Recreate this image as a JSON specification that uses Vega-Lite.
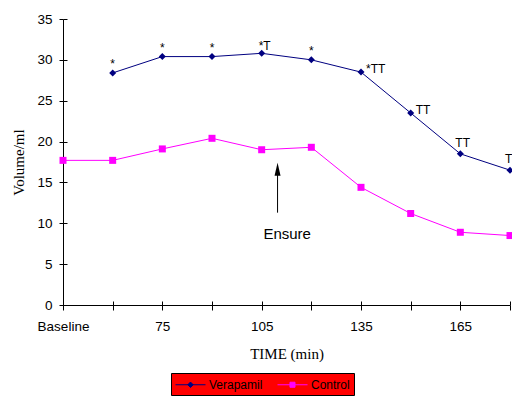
{
  "$schema": "https://vega.github.io/schema/vega-lite/v6.json",
  "width": 447,
  "height": 286,
  "autosize": {"type": "none"},
  "padding": {"left": 63, "top": 19, "right": 2, "bottom": 91},
  "background": "white",
  "config": {
    "view": {"stroke": null},
    "font": "Liberation Sans",
    "axis": {
      "grid": false,
      "domainColor": "#000000",
      "tickColor": "#000000",
      "labelColor": "#000000",
      "labelFont": "Liberation Sans",
      "labelFontSize": 13.5,
      "titleFont": "Liberation Serif",
      "titleFontSize": 15,
      "titleFontWeight": "normal",
      "titleColor": "#000000"
    }
  },
  "datasets": {
    "volumes": [
      {"time": 45, "series": "Control", "volume": 17.7},
      {"time": 60, "series": "Control", "volume": 17.7},
      {"time": 75, "series": "Control", "volume": 19.1},
      {"time": 90, "series": "Control", "volume": 20.4},
      {"time": 105, "series": "Control", "volume": 19.0},
      {"time": 120, "series": "Control", "volume": 19.3},
      {"time": 135, "series": "Control", "volume": 14.4},
      {"time": 150, "series": "Control", "volume": 11.2},
      {"time": 165, "series": "Control", "volume": 8.9},
      {"time": 180, "series": "Control", "volume": 8.5},
      {"time": 60, "series": "Verapamil", "volume": 28.4, "note": "*"},
      {"time": 75, "series": "Verapamil", "volume": 30.4, "note": "*"},
      {"time": 90, "series": "Verapamil", "volume": 30.4, "note": "*"},
      {"time": 105, "series": "Verapamil", "volume": 30.8, "note": "*T"},
      {"time": 120, "series": "Verapamil", "volume": 30.0, "note": "*"},
      {"time": 135, "series": "Verapamil", "volume": 28.5, "note": "*TT"},
      {"time": 150, "series": "Verapamil", "volume": 23.5, "note": "TT"},
      {"time": 165, "series": "Verapamil", "volume": 18.5, "note": "TT"},
      {"time": 180, "series": "Verapamil", "volume": 16.5, "note": "T"}
    ],
    "arrow": [{"time": 109.8, "volume": 11.3, "volume2": 16.0}],
    "arrowHead": [{"time": 109.8, "volume": 16.6}],
    "caption": [{"time": 112.7, "volume": 8.7, "text": "Ensure"}]
  },
  "resolve": {"axis": {"x": "independent", "y": "independent"}},
  "layer": [
    {
      "encoding": {
        "x": {
          "field": "time",
          "type": "quantitative",
          "scale": {"domain": [45, 180], "nice": false, "zero": false},
          "axis": {
            "orient": "bottom",
            "title": "TIME (min)",
            "values": [45, 60, 75, 90, 105, 120, 135, 150, 165, 180],
            "labelExpr": "datum.value == 45 ? 'Baseline' : ((datum.value - 45) / 15) % 2 == 0 ? datum.label : ''",
            "labelFlush": false,
            "labelOverlap": false,
            "tickSize": 5,
            "labelPadding": 9,
            "titlePadding": 14
          }
        },
        "y": {
          "field": "volume",
          "type": "quantitative",
          "scale": {"domain": [0, 35], "nice": false},
          "axis": {
            "orient": "left",
            "title": "Volume/ml",
            "values": [0, 5, 10, 15, 20, 25, 30, 35],
            "tickSize": 4,
            "labelPadding": 7,
            "titlePadding": 10
          }
        }
      },
      "layer": [
        {
          "data": {"name": "volumes"},
          "mark": {"type": "line", "strokeWidth": 1},
          "encoding": {
            "color": {
              "field": "series",
              "type": "nominal",
              "scale": {"domain": ["Verapamil", "Control"], "range": ["#000080", "#FF00FF"]},
              "legend": {
                "orient": "none",
                "legendX": 108,
                "legendY": 354,
                "direction": "horizontal",
                "title": null,
                "fillColor": "#FF0000",
                "strokeColor": "#000000",
                "padding": 4,
                "labelFont": "Liberation Sans",
                "labelFontSize": 12,
                "labelColor": "#000000",
                "symbolSize": 196,
                "symbolType": "M-1,0H3.29",
                "symbolStrokeWidth": 1,
                "columnPadding": 12,
                "labelOffset": 19,
                "encode": {
                  "symbols": {
                    "update": {
                      "shape": {"signal": "datum.value === 'Verapamil' ? 'M-1,0H3.29M1.14,-0.39L1.53,0L1.14,0.39L0.75,0Z' : 'M-1,0H3.29M0.78,-0.36H1.5V0.36H0.78Z'"},
                      "fill": {"signal": "datum.value === 'Verapamil' ? '#000080' : '#FF00FF'"},
                      "stroke": {"signal": "datum.value === 'Verapamil' ? '#000080' : '#FF00FF'"},
                      "opacity": {"value": 1}
                    }
                  }
                }
              }
            }
          }
        },
        {
          "data": {"name": "volumes"},
          "transform": [{"filter": "datum.series == 'Verapamil'"}],
          "mark": {"type": "point", "shape": "diamond", "filled": true, "opacity": 1, "size": 49, "color": "#000080"}
        },
        {
          "data": {"name": "volumes"},
          "transform": [{"filter": "datum.series == 'Control'"}],
          "mark": {"type": "point", "shape": "square", "filled": true, "opacity": 1, "size": 49, "color": "#FF00FF"}
        },
        {
          "data": {"name": "volumes"},
          "transform": [{"filter": "(datum.time == 60 || datum.time == 75 || datum.time == 90 || datum.time == 120) && datum.series == 'Verapamil'"}],
          "mark": {"type": "text", "align": "center", "baseline": "alphabetic", "dy": -4.5, "fontSize": 12, "color": "#000000"},
          "encoding": {"text": {"field": "note"}}
        },
        {
          "data": {"name": "volumes"},
          "transform": [{"filter": "datum.time == 105 && datum.series == 'Verapamil'"}],
          "mark": {"type": "text", "align": "left", "baseline": "alphabetic", "dx": -3, "dy": -3.5, "fontSize": 12, "color": "#000000"},
          "encoding": {"text": {"field": "note"}}
        },
        {
          "data": {"name": "volumes"},
          "transform": [{"filter": "(datum.time == 165 || datum.time == 180) && datum.series == 'Verapamil'"}],
          "mark": {"type": "text", "align": "left", "baseline": "alphabetic", "dx": -5, "dy": -7, "fontSize": 12, "color": "#000000"},
          "encoding": {"text": {"field": "note"}}
        },
        {
          "data": {"name": "volumes"},
          "transform": [{"filter": "(datum.time == 135 || datum.time == 150) && datum.series == 'Verapamil'"}],
          "mark": {"type": "text", "align": "left", "baseline": "alphabetic", "dx": 5, "dy": 1, "fontSize": 12, "color": "#000000"},
          "encoding": {"text": {"field": "note"}}
        },
        {
          "data": {"name": "arrow"},
          "mark": {"type": "rule", "color": "#000000", "strokeWidth": 1},
          "encoding": {"y2": {"field": "volume2"}}
        },
        {
          "data": {"name": "arrowHead"},
          "mark": {"type": "point", "shape": "M0,-1L0.46,1L-0.46,1Z", "size": 169, "filled": true, "color": "#000000", "opacity": 1}
        },
        {
          "data": {"name": "caption"},
          "mark": {"type": "text", "align": "center", "baseline": "middle", "fontSize": 15, "color": "#000000"},
          "encoding": {"text": {"field": "text"}}
        }
      ]
    },
    {
      "data": {"name": "volumes"},
      "mark": {"type": "point", "opacity": 0},
      "encoding": {
        "x": {
          "field": "time",
          "type": "quantitative",
          "axis": {
            "orient": "bottom",
            "title": null,
            "values": [45, 60, 75, 90, 105, 120, 135, 150, 165, 180],
            "labels": false,
            "domain": false,
            "tickSize": -4
          }
        },
        "y": {
          "field": "volume",
          "type": "quantitative",
          "axis": {
            "orient": "left",
            "title": null,
            "values": [0, 5, 10, 15, 20, 25, 30, 35],
            "labels": false,
            "domain": false,
            "tickSize": -4
          }
        }
      }
    }
  ]
}
